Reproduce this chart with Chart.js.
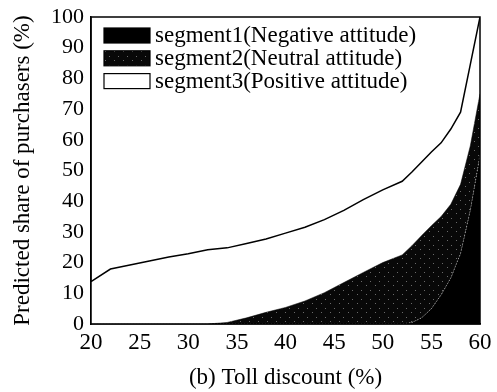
<!DOCTYPE html>
<html>
<head>
<meta charset="utf-8">
<script src="https://cdn.jsdelivr.net/npm/chart.js@4/dist/chart.umd.min.js"></script>
<style>
  html, body { margin: 0; padding: 0; background: #fff; }
  #wrap { width: 497px; height: 392px; }
</style>
</head>
<body>
<div id="wrap"><canvas id="chart" width="497" height="392"></canvas></div>
<script>
// toll discount (%)
const discounts = [20,22,24,26,28,30,32,34,36,38,40,42,44,46,48,50,52,53,54,55,56,57,58,59,60];
// predicted share of purchasers per segment (%), stacked
const seg1 = [0,0,0,0,0,0,0,0,0,0,0,0,0,0,0,0,0,0.5,2,5,9.5,15,23,37,55];
const seg2 = [0,0,0,0,0,0,0,0.5,2,3.8,5.4,7.5,10.2,13.5,16.8,20,22.5,25,26.8,27,25.5,24,22.5,21,20];
const seg3 = [13.8,17.9,19.2,20.5,21.8,22.9,24.2,24.3,24.2,23.9,24.2,24,23.8,23.5,23.7,23.7,24,24,24,24,24,24.5,23.5,26.5,25];
const segLabels = ["segment1(Negative attitude)", "segment2(Neutral attitude)", "segment3(Positive attitude)"];

const serif = "'Liberation Serif', 'Times New Roman', serif";

// near-black stipple for segment2
function stipple(){
    const c = document.createElement("canvas");
    c.width = 9; c.height = 9;
    const g = c.getContext("2d");
    g.fillStyle = "#080808";
    g.fillRect(0,0,9,9);
    g.fillStyle = "#6a6a6a";
    g.fillRect(1,2,1,1);
    g.fillRect(6,6,1,1);
    return g.createPattern(c, "repeat");
}
const ctx = document.getElementById("chart").getContext("2d");
const dots = stipple();

const toPts = arr => arr.map((v,i)=>({x:discounts[i], y:v}));

// plot frame + legend drawn inside the plot area
const frame = {
    id: "frame",
    afterDatasetsDraw(chart){
        const a = chart.chartArea, c = chart.ctx;
        c.save();
        c.strokeStyle = "#000";
        c.lineWidth = 1.5;
        c.strokeRect(a.left, a.top, a.right-a.left, a.bottom-a.top);

        c.font = "23px " + serif;
        c.textBaseline = "middle";
        c.fillStyle = "#000";
        chart.data.datasets.forEach((d,i)=>{
            const bx = a.left + 13, by = a.top + 11 + i*22.8;
            c.fillStyle = d.backgroundColor;
            c.fillRect(bx, by, 46, 15);
            c.lineWidth = 1.2;
            c.strokeStyle = "#000";
            c.strokeRect(bx, by, 46, 15);
            c.fillStyle = "#000";
            c.fillText(d.label, bx + 51, by + 8);
        });
        c.restore();
    }
};

new Chart(ctx, {
    type: "line",
    data: {
        datasets: [
            {label: segLabels[0], data: toPts(seg1), backgroundColor: "#000", borderColor: "#a0a0a0",
             borderWidth: 1, borderDash: [1,2], fill: "origin"},
            {label: segLabels[1], data: toPts(seg2), backgroundColor: dots, borderColor: "#000",
             borderWidth: 0.5, fill: "-1"},
            {label: segLabels[2], data: toPts(seg3), backgroundColor: "#fff", borderColor: "#000",
             borderWidth: 1.5, fill: "-1"}
        ]
    },
    options: {
        responsive: false,
        animation: false,
        layout: {padding: {top: 17, right: 17, left: 0, bottom: 0}},
        elements: {point: {radius: 0}, line: {tension: 0}},
        plugins: {
            tooltip: {enabled: false},
            legend: {display: false}
        },
        scales: {
            x: {
                type: "linear",
                min: 20, max: 60,
                grid: {display: false, drawTicks: true, tickLength: 4, tickColor: "#000"},
                border: {color: "#000", width: 1.5},
                ticks: {stepSize: 2.5, color: "#000", font: {family: serif, size: 23}, padding: 1,
                        autoSkip: false, maxRotation: 0,
                        callback: v => v % 5 === 0 ? v : ""},
                title: {display: true, text: "(b) Toll discount (%)", color: "#000",
                        font: {family: serif, size: 23}, padding: {top: 2, bottom: 0}},
                afterFit(s){ s.height = 68; }
            },
            y: {
                stacked: true,
                min: 0, max: 100,
                grid: {display: false, drawTicks: true, tickLength: 7, tickColor: "#000"},
                border: {color: "#000", width: 1.5},
                ticks: {stepSize: 5, color: "#000", font: {family: serif, size: 22}, padding: 0,
                        autoSkip: false,
                        callback: v => v % 10 === 0 ? v : ""},
                title: {display: true, text: "Predicted share of purchasers (%)", color: "#000",
                        font: {family: serif, size: 23}, padding: {top: 9, bottom: 0}},
                afterFit(s){ s.width = 91; }
            }
        }
    },
    plugins: [frame]
});
</script>
</body>
</html>
